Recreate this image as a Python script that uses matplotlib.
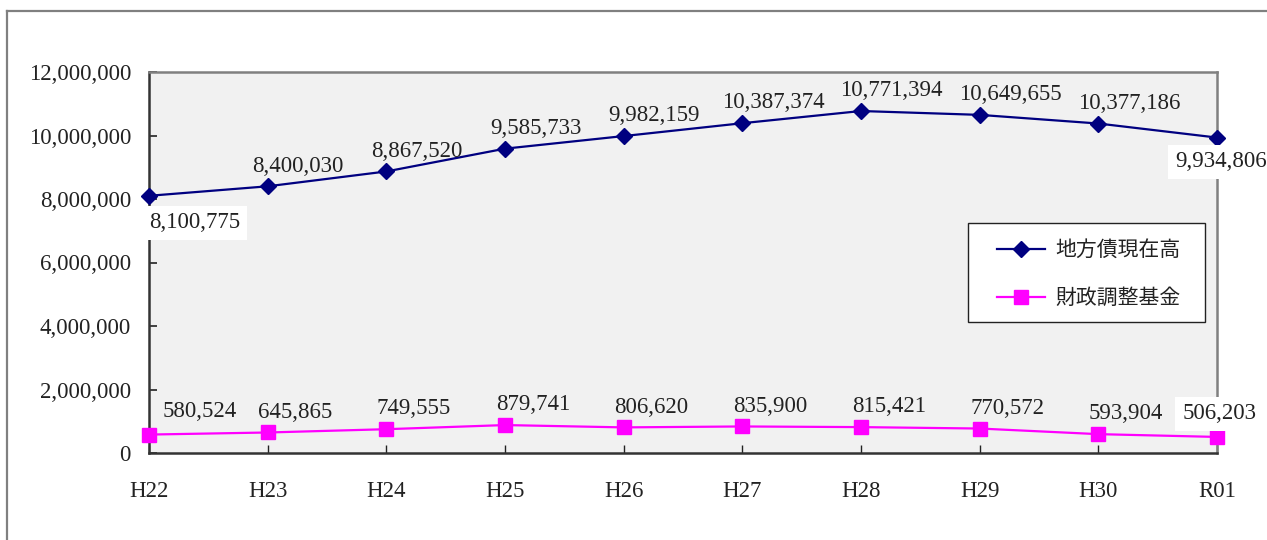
import matplotlib
matplotlib.use("Agg")
import matplotlib.pyplot as plt
from matplotlib.lines import Line2D
from matplotlib.patches import Rectangle
from matplotlib.ticker import FuncFormatter, MultipleLocator

years = ["H22", "H23", "H24", "H25", "H26", "H27", "H28", "H29", "H30", "R01"]
debt = [8100775, 8400030, 8867520, 9585733, 9982159, 10387374, 10771394, 10649655, 10377186, 9934806]
fund = [580524, 645865, 749555, 879741, 806620, 835900, 815421, 770572, 593904, 506203]
series_names = ["地方債現在高", "財政調整基金"]

plt.rcParams['font.family'] = ['Liberation Serif', 'DejaVu Serif']

W, H = 1267, 540
AX_L, AX_R, AX_T, AX_B = 149, 1217, 72, 453
fig = plt.figure(figsize=(W / 100, H / 100), dpi=100)
ax = fig.add_axes([AX_L / W, 1 - AX_B / H, (AX_R - AX_L) / W, (AX_B - AX_T) / H])
ax.set_facecolor('#f1f1f1')

def axx(px):
    return (px - AX_L) / (AX_R - AX_L)

def axy(py):
    return (AX_B - py) / (AX_B - AX_T)

x = list(range(len(years)))
ax.plot(x, debt, color='#000080', lw=1.6, marker='D', ms=8, mec='#000080', mfc='#000080',
        label=series_names[0], clip_on=False, zorder=3)
ax.plot(x, fund, color='#ff00ff', lw=1.6, marker='s', ms=10, mec='#ff00ff', mfc='#ff00ff',
        label=series_names[1], clip_on=False, zorder=3)

ax.set_xlim(0, len(years) - 1)
ax.set_ylim(0, 12000000)
ax.yaxis.set_major_locator(MultipleLocator(2000000))
ax.yaxis.set_major_formatter(FuncFormatter(lambda v, p: f"{int(v):,}"))
ax.set_xticks(x)
ax.set_xticklabels(years)
ax.tick_params(axis='y', direction='in', length=6, width=1.2, pad=13, labelsize=16.5, colors='#222222')
ax.tick_params(axis='x', direction='in', length=6, width=1.0, pad=20, labelsize=16.5, colors='#222222')

for s in ['left', 'bottom']:
    ax.spines[s].set_color('#333333')
    ax.spines[s].set_linewidth(1.8)
for s in ['top', 'right']:
    ax.spines[s].set_color('#808080')
    ax.spines[s].set_linewidth(1.8)

fs = 16.5
n = len(years)
for i, v in enumerate(debt):
    txt = f"{v:,}"
    if i == 0:
        ax.annotate(txt, (i, v), xytext=(0, -12), textcoords='offset points', ha='left', va='top',
                    fontsize=fs, color='#222222', zorder=4,
                    bbox=dict(boxstyle='square,pad=0.3', fc='white', ec='none'))
    elif i == n - 1:
        ax.annotate(txt, (i, v), xytext=(-30, -10), textcoords='offset points', ha='left', va='top',
                    fontsize=fs, color='#222222', zorder=4, annotation_clip=False,
                    bbox=dict(boxstyle='square,pad=0.3', fc='white', ec='none'))
    else:
        ax.annotate(txt, (i, v), xytext=(22, 7), textcoords='offset points', ha='center', va='bottom',
                    fontsize=fs, color='#222222', zorder=4)

for i, v in enumerate(fund):
    txt = f"{v:,}"
    if i == 0:
        ax.annotate(txt, (i, v), xytext=(10, 9), textcoords='offset points', ha='left', va='bottom',
                    fontsize=fs, color='#222222', zorder=4)
    elif i == n - 1:
        ax.annotate(txt, (i, v), xytext=(-25, 9), textcoords='offset points', ha='left', va='bottom',
                    fontsize=fs, color='#222222', zorder=4, annotation_clip=False,
                    bbox=dict(boxstyle='square,pad=0.3', fc='white', ec='none'))
    else:
        ax.annotate(txt, (i, v), xytext=(20, 7), textcoords='offset points', ha='center', va='bottom',
                    fontsize=fs, color='#222222', zorder=4)

# legend frame drawn separately
ax.add_patch(Rectangle((axx(968), axy(322)), axx(1205) - axx(968), axy(223) - axy(322),
                       transform=ax.transAxes, fc='white', ec='#222222', lw=1.0, zorder=5))
leg = ax.legend(loc='upper left', bbox_to_anchor=(axx(997), axy(239)),
                frameon=False,
                prop={'family': ['Noto Sans CJK JP', 'DejaVu Sans'], 'size': 15},
                handlelength=2.3, labelspacing=1.25, borderpad=0, handletextpad=0.5,
                borderaxespad=0)
leg.set_zorder(6)
for t in leg.get_texts():
    t.set_color('#222222')

# outer frame
fig.add_artist(Line2D([7 / W, 7 / W], [0, 1 - 11 / H], transform=fig.transFigure, color='#808080', lw=1.6))
fig.add_artist(Line2D([7 / W, 1], [1 - 11 / H, 1 - 11 / H], transform=fig.transFigure, color='#808080', lw=1.6))

fig.savefig('out.png', dpi=100)
